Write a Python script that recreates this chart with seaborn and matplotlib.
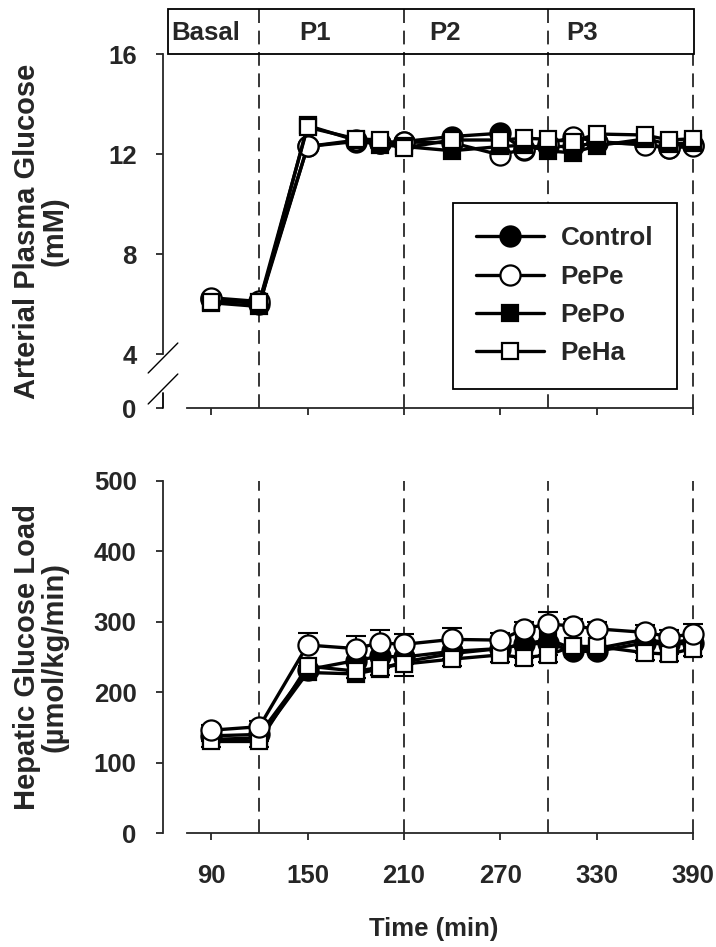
import matplotlib
matplotlib.use("Agg")
import matplotlib.pyplot as plt
import matplotlib.transforms as mtransforms
from matplotlib.patches import Rectangle
import seaborn as sns

# sampling times (min)
times = [90, 120, 150, 180, 195, 210, 240, 270, 285, 300, 315, 330, 360, 375, 390]
groups = ["Control", "PePe", "PePo", "PeHa"]

# arterial plasma glucose (mM)
glucose_control = [6.2, 6.0, 12.3, 12.5, 12.45, 12.5, 12.7, 12.83, 12.17, 12.3, 12.3, 12.45, 12.4, 12.25, 12.35]
glucose_pepe = [6.25, 6.1, 12.3, 12.55, 12.45, 12.48, 12.45, 11.96, 12.2, 12.4, 12.69, 12.5, 12.36, 12.23, 12.32]
glucose_pepo = [6.05, 5.9, 13.14, 12.55, 12.36, 12.3, 12.13, 12.3, 12.35, 12.12, 12.05, 12.33, 12.6, 12.4, 12.45]
glucose_peha = [6.08, 6.08, 13.07, 12.61, 12.56, 12.24, 12.56, 12.56, 12.63, 12.59, 12.49, 12.8, 12.76, 12.56, 12.61]

# hepatic glucose load (umol/kg/min)
load_control = [138, 140, 232, 245, 251, 250, 258, 262, 268, 270, 258, 258, 270, 268, 270]
load_pepe = [146, 151, 267, 262, 270, 268, 275, 274, 290, 297, 294, 290, 285, 279, 282]
load_pepo = [133, 135, 228, 226, 233, 243, 255, 262, 268, 275, 262, 262, 275, 270, 275]
load_peha = [130, 130, 237, 230, 235, 240, 247, 253, 249, 253, 265, 265, 256, 254, 262]
err_pepe = [8, 8, 17, 18, 18, 15, 16, 10, 10, 17, 10, 10, 10, 10, 15]   # upper bars
err_peha = [8, 8, 10, 10, 10, 17, 10, 10, 10, 10, 10, 10, 10, 10, 10]   # lower bars

period_edges = [120, 210, 300, 390]
period_names = ["Basal", "P1", "P2", "P3"]
period_text_x = [86.8, 154.6, 235.6, 321]

glucose_ticks = [4, 8, 12, 16]
load_ticks = [0, 100, 200, 300, 400, 500]
time_ticks = [90, 150, 210, 270, 330, 390]

sns.set_style("ticks")
plt.rcParams["font.family"] = ["Liberation Sans", "DejaVu Sans"]
plt.rcParams["font.weight"] = "bold"
plt.rcParams["axes.labelweight"] = "bold"

styles = {
    "Control": dict(marker="o", markersize=14.5, markerfacecolor="black"),
    "PePe": dict(marker="o", markersize=14.5, markerfacecolor="white"),
    "PePo": dict(marker="s", markersize=12, markerfacecolor="black"),
    "PeHa": dict(marker="s", markersize=12, markerfacecolor="white"),
}

fig = plt.figure(figsize=(7.16, 9.47), dpi=100)
W, H = 716, 947
ax1 = fig.add_axes([163 / W, (H - 408) / H, 530 / W, 354 / H])
ax2 = fig.add_axes([163 / W, (H - 833) / H, 530 / W, 352 / H])

ybot = 1.84   # axis bottom of the broken glucose axis, labelled 0
box_top = 17.8
fs = 18.5
fs_lab = 21
lw_ax = 1.3

def draw_series(ax, series, order, with_label):
    for g in order:
        sns.lineplot(x=times, y=series[g], ax=ax, color="black", lw=2.4,
                     markeredgecolor="black", markeredgewidth=1.6,
                     clip_on=False, zorder=3, label=g if with_label else None,
                     legend=False, **styles[g])

glucose = dict(zip(groups, [glucose_control, glucose_pepe, glucose_pepo, glucose_peha]))
load = dict(zip(groups, [load_control, load_pepe, load_pepo, load_peha]))

# error bars for the hepatic load
ax2.errorbar(times, load["PePe"], yerr=[[0] * len(times), err_pepe], fmt="none",
             ecolor="black", elinewidth=1.5, capsize=7, capthick=1.5, zorder=2, clip_on=False)
ax2.errorbar(times, load["PeHa"], yerr=[err_peha, [0] * len(times)], fmt="none",
             ecolor="black", elinewidth=1.5, capsize=7, capthick=1.5, zorder=2, clip_on=False)

draw_series(ax1, glucose, ["Control", "PePe", "PePo", "PeHa"], True)
draw_series(ax2, load, ["Control", "PePo", "PeHa", "PePe"], False)

# period boundaries
for x in period_edges:
    top = 16 if x == period_edges[-1] else box_top
    ax1.plot([x, x], [ybot, top], color="black", lw=1.1, ls=(0, (9, 5)),
             clip_on=False, zorder=1)
    ax2.plot([x, x], [0, 500], color="black", lw=1.1, ls=(0, (9, 5)),
             clip_on=False, zorder=1)

# period box above the top panel
ax1.add_patch(Rectangle((63, 16), 390.5 - 63, box_top - 16, fill=False,
                        edgecolor="black", lw=lw_ax, clip_on=False))
for name, xt in zip(period_names, period_text_x):
    ax1.text(xt, 16.84, name, ha="center", va="center", fontsize=fs,
             fontweight="bold")

for ax in (ax1, ax2):
    ax.set_xlim(60, 390)
    sns.despine(ax=ax)
    ax.spines["bottom"].set_bounds(75, 390)
    for s in ("left", "bottom"):
        ax.spines[s].set_linewidth(lw_ax)
    ax.set_xticks(time_ticks)
    ax.tick_params(direction="out", length=5, width=lw_ax, labelsize=fs)
    ax.tick_params(axis="x", pad=17)
    ax.tick_params(axis="y", pad=14)
    ax.set_xlabel("")
    ax.set_ylabel("")

# top panel: broken glucose axis
ax1.set_ylim(ybot, 16)
ax1.set_yticks([ybot] + glucose_ticks)
ax1.set_yticklabels(["0"] + [str(t) for t in glucose_ticks])
ax1.spines["left"].set_bounds(4, 16)
ax1.tick_params(labelbottom=False)
trans = mtransforms.blended_transform_factory(ax1.transAxes, ax1.transData)
ax1.plot([0, 0], [ybot, 2.44], color="black", lw=lw_ax, transform=trans, clip_on=False)
ax1.plot([-0.028, 0.028], [3.24, 4.44], color="black", lw=1.0, transform=trans, clip_on=False)
ax1.plot([-0.028, 0.028], [2.0, 3.2], color="black", lw=1.0, transform=trans, clip_on=False)
ax1.set_ylabel("Arterial Plasma Glucose\n(mM)", fontsize=fs_lab, fontweight="bold", linespacing=1.0)
ax1.yaxis.set_label_coords(-0.178, 0.5)

leg = ax1.legend(loc="upper left", bbox_to_anchor=(0.547, 0.579), frameon=True,
                 fancybox=False, edgecolor="black", framealpha=1,
                 handlelength=2.6, handletextpad=0.65, labelspacing=0.55,
                 borderpad=0.9, borderaxespad=0,
                 prop={"size": 18.7, "weight": "bold"})
leg.get_frame().set_linewidth(lw_ax)

# bottom panel
ax2.set_ylim(0, 500)
ax2.set_yticks(load_ticks)
ax2.spines["left"].set_bounds(0, 500)
ax2.set_ylabel("Hepatic Glucose Load\n(µmol/kg/min)", fontsize=fs_lab, fontweight="bold", linespacing=1.0)
ax2.yaxis.set_label_coords(-0.178, 0.5)
ax2.set_xlabel("Time (min)", fontsize=fs, fontweight="bold")
ax2.xaxis.set_label_coords(0.511, -0.24)

fig.savefig("out.png", dpi=100)
